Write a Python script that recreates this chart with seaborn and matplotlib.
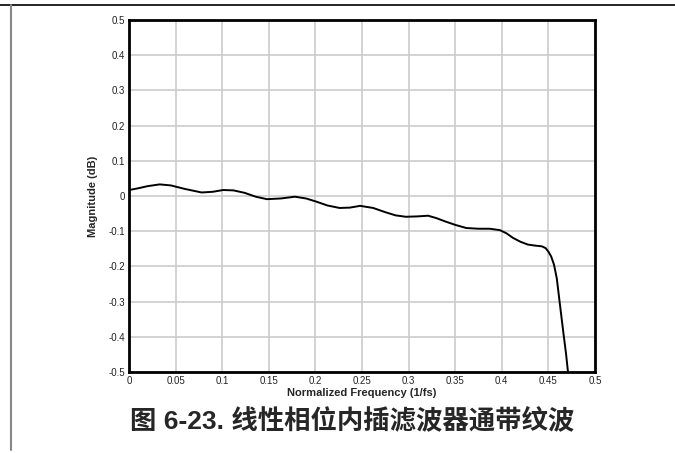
import numpy as np
import pandas as pd
import matplotlib
matplotlib.use('Agg')
import matplotlib.pyplot as plt
from matplotlib.lines import Line2D
import seaborn as sns

# Passband ripple
freq = [0, 0.01, 0.02, 0.033, 0.045, 0.06, 0.078, 0.09, 0.101, 0.112, 0.124,
        0.136, 0.148, 0.163, 0.178, 0.19, 0.201, 0.213, 0.226, 0.237, 0.248,
        0.262, 0.275, 0.286, 0.297, 0.309, 0.321, 0.33, 0.339, 0.35, 0.362,
        0.375, 0.387, 0.398, 0.405, 0.412, 0.42, 0.428, 0.436, 0.443, 0.447,
        0.450, 0.453, 0.456, 0.459, 0.462, 0.466, 0.469, 0.471]
mag_db = [0.017, 0.022, 0.028, 0.033, 0.030, 0.020, 0.010, 0.012, 0.017, 0.016,
          0.009, -0.002, -0.009, -0.007, -0.002, -0.007, -0.016, -0.027, -0.034,
          -0.033, -0.028, -0.034, -0.046, -0.055, -0.059, -0.058, -0.056, -0.063,
          -0.072, -0.082, -0.091, -0.093, -0.093, -0.097, -0.106, -0.119, -0.130,
          -0.138, -0.141, -0.143, -0.148, -0.158, -0.172, -0.195, -0.234, -0.30,
          -0.387, -0.45, -0.50]

x_ticks = [0, 0.05, 0.1, 0.15, 0.2, 0.25, 0.3, 0.35, 0.4, 0.45, 0.5]
x_labels = ['0', '0.05', '0.1', '0.15', '0.2', '0.25', '0.3', '0.35', '0.4', '0.45', '0.5']
y_ticks = [-0.5, -0.4, -0.3, -0.2, -0.1, 0, 0.1, 0.2, 0.3, 0.4, 0.5]
y_labels = ['-0.5', '-0.4', '-0.3', '-0.2', '-0.1', '0', '0.1', '0.2', '0.3', '0.4', '0.5']

caption = '图 6-23. 线性相位内插滤波器通带纹波'

sns.set_style('white')
plt.rcParams['font.family'] = ['Liberation Sans', 'Noto Sans CJK SC', 'DejaVu Sans']

df = pd.DataFrame({'freq': freq, 'mag': mag_db})

fig = plt.figure(figsize=(6.75, 4.53), dpi=100)
ax = fig.add_axes([129 / 675, 1 - 372 / 453, 466 / 675, 352 / 453])

sns.lineplot(data=df, x='freq', y='mag', ax=ax, color='black', linewidth=1.4,
             sort=False, estimator=None)

ax.set_xlim(0, 0.5)
ax.set_ylim(-0.5, 0.5)
ax.set_xticks(x_ticks)
ax.set_xticklabels(x_labels)
ax.set_yticks(y_ticks)
ax.set_yticklabels(y_labels)
ax.tick_params(axis='both', length=0, labelsize=7, pad=3, colors='#222222')
ax.grid(True, color='#cccccc', linewidth=1.2)
for s in ax.spines.values():
    s.set_color('black')
    s.set_linewidth(2)

ax.set_xlabel('Normalized Frequency (1/fs)', fontsize=8, fontweight='bold', labelpad=1)
ax.set_ylabel('Magnitude (dB)', fontsize=8, fontweight='bold', labelpad=7)

fig.text(352 / 675, 1 - 420 / 453, caption, ha='center', va='center',
         fontsize=19, fontweight='bold',
         family=['Liberation Sans', 'Noto Sans CJK SC'])

# page rules around the figure
fig.add_artist(Line2D([0, 1], [1 - 5 / 453, 1 - 5 / 453], color='black', linewidth=1.2))
fig.add_artist(Line2D([11 / 675, 11 / 675], [1 - 5 / 453, 1 - 450 / 453],
                      color='#888888', linewidth=1.5))

fig.savefig('out.png', dpi=100)
